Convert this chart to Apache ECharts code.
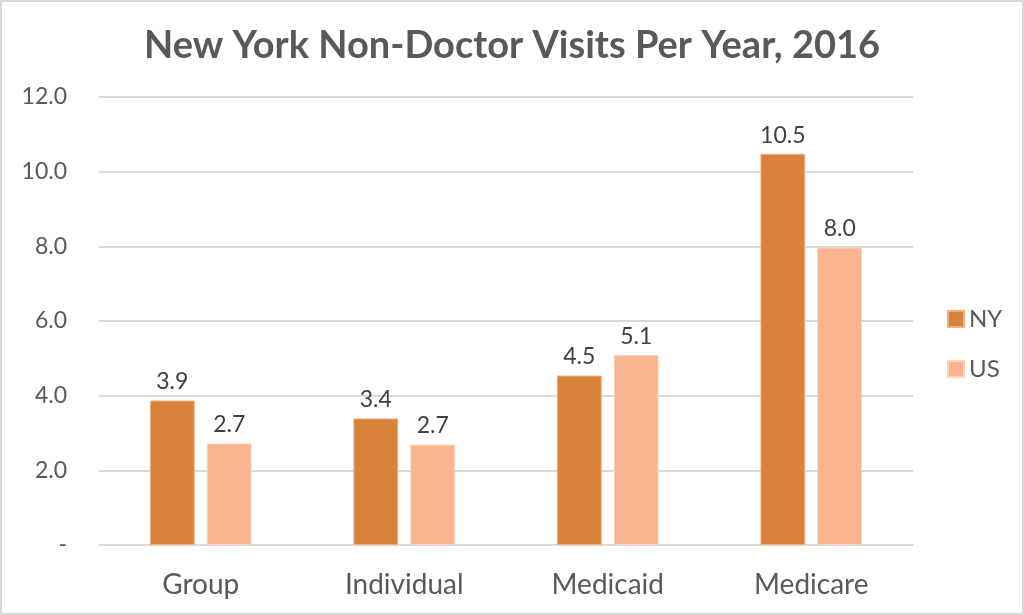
<!DOCTYPE html>
<html><head><meta charset="utf-8">
<script src="https://cdn.jsdelivr.net/npm/echarts@6/dist/echarts.min.js"></script>
<style>html,body{margin:0;padding:0;background:#fff}#c{width:1024px;height:615px;box-sizing:border-box;border:2px solid #d9d9d9}</style>
</head><body><div id="c"></div>
<script>
const categories = ["Group", "Individual", "Medicaid", "Medicare"];
const nyValues = [3.87, 3.39, 4.54, 10.48];
const usValues = [2.72, 2.69, 5.09, 7.97];
const yTicks = [0, 2, 4, 6, 8, 10, 12];

const chart = echarts.init(document.getElementById('c'));
const font = "Lato, 'Open Sans', sans-serif";
const lbl = {show: true, position: 'top', distance: 7, color: '#404040', fontSize: 23, fontFamily: font,
  formatter: p => p.value.toFixed(1)};
chart.setOption({
  animation: false,
  title: {text: 'New York Non-Doctor Visits Per Year, 2016', left: 'center', top: 20,
    textStyle: {color: '#595959', fontSize: 38, fontWeight: 'bold', fontFamily: font}},
  legend: {orient: 'vertical', left: 940, top: 300, itemWidth: 16, itemHeight: 16, itemGap: 26,
    icon: 'rect', textStyle: {color: '#595959', fontSize: 24, fontFamily: font}},
  grid: {left: 97, right: 109, top: 95, bottom: 68},
  xAxis: {type: 'category', data: categories,
    axisLine: {lineStyle: {color: '#d9d9d9', width: 2}}, axisTick: {show: false},
    axisLabel: {color: '#595959', fontSize: 28, fontFamily: font, margin: 26}},
  yAxis: {type: 'value', min: 0, max: 12, interval: 2,
    axisLine: {show: false}, axisTick: {show: false},
    splitLine: {lineStyle: {color: '#d9d9d9', width: 2}},
    axisLabel: {color: '#595959', fontSize: 23, fontFamily: font, margin: 32,
      formatter: v => yTicks.includes(v) ? (v === 0 ? '-' : v.toFixed(1)) : ''}},
  series: [
    {name: 'NY', type: 'bar', data: nyValues, barWidth: '22%', barGap: '27%',
      itemStyle: {color: '#D9823B', borderColor: '#F0B07E', borderWidth: 1}, label: lbl},
    {name: 'US', type: 'bar', data: usValues, barWidth: '22%',
      itemStyle: {color: '#F8B590', borderColor: '#FCD3BC', borderWidth: 1}, label: lbl}
  ]
});
</script></body></html>
